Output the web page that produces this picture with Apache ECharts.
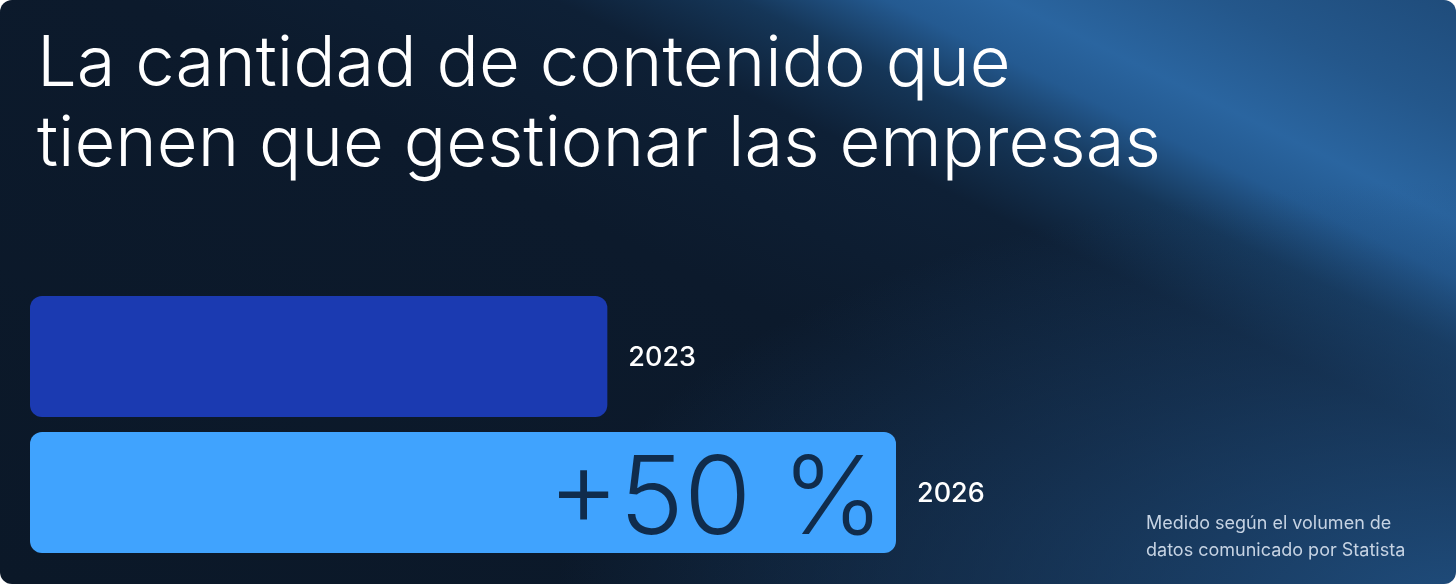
<!DOCTYPE html>
<html>
<head>
<meta charset="utf-8">
<script src="https://cdn.jsdelivr.net/npm/echarts@6/dist/echarts.min.js"></script>
<style>
html,body{margin:0;padding:0;background:#ffffff;width:1456px;height:584px;overflow:hidden;}
#card{position:absolute;left:0;top:0;width:1456px;height:584px;border-radius:12px;overflow:hidden;
background:
radial-gradient(ellipse 900px 420px at 1456px 600px, rgba(34,84,136,0.85), rgba(30,72,118,0.45) 55%, rgba(30,72,118,0) 100%),
linear-gradient(26deg, #0b1828 0%, #0c1a2c 50%, #0e2036 66%, #153658 73%, #245a91 78.5%, #2a65a0 83%, #24578b 91%, #1f4c7b 100%);}
#chart{position:absolute;left:0;top:0;width:1456px;height:584px;}
</style>
</head>
<body>
<div id="card"><div id="chart"></div></div>
<script>
const categories = ['2023', '2026'];
const values = [100, 150];
const growthLabels = ['', '+50 %'];
const titleText = 'La cantidad de contenido que\ntienen que gestionar las empresas';
const noteText = 'Medido según el volumen de\ndatos comunicado por Statista';
const barColors = ['#1b3ab1', '#40a3fe'];

const chart = echarts.init(document.getElementById('chart'), null, {renderer: 'canvas'});
const fontFamily = 'Inter, "Noto Sans", sans-serif';

chart.setOption({
  backgroundColor: 'transparent',
  animation: false,
  title: [{
    text: titleText,
    left: 32,
    top: 20,
    textStyle: {color: '#ffffff', fontFamily: fontFamily, fontWeight: 300, fontSize: 70.5, lineHeight: 80}
  }, {
    text: noteText,
    left: 1141,
    top: 505,
    textStyle: {color: '#c6d3e3', fontFamily: fontFamily, fontWeight: 400, fontSize: 18, lineHeight: 27}
  }],
  grid: {left: 30, right: 271.33, top: 288.5, bottom: 23.5, containLabel: false},
  xAxis: {type: 'value', min: 0, max: 200, show: false},
  yAxis: {type: 'category', data: categories, inverse: true, show: false},
  series: [{
    type: 'bar',
    barWidth: 121,
    data: values.map((v, i) => ({value: v, itemStyle: {color: barColors[i], borderRadius: 12}})),
    label: {
      show: true, position: 'right', distance: 21, offset: [0, 1],
      formatter: p => categories[p.dataIndex],
      color: '#ffffff', fontFamily: fontFamily, fontWeight: 500, fontSize: 27
    }
  }, {
    type: 'bar',
    barWidth: 121,
    barGap: '-100%',
    silent: true,
    itemStyle: {color: 'rgba(0,0,0,0)'},
    data: values,
    z: 5,
    label: {
      show: true, position: 'insideRight', distance: 12, offset: [0, 9],
      formatter: p => growthLabels[p.dataIndex],
      color: '#102c4c', fontFamily: fontFamily, fontWeight: 300, fontSize: 109
    }
  }]
});
</script>
</body>
</html>
